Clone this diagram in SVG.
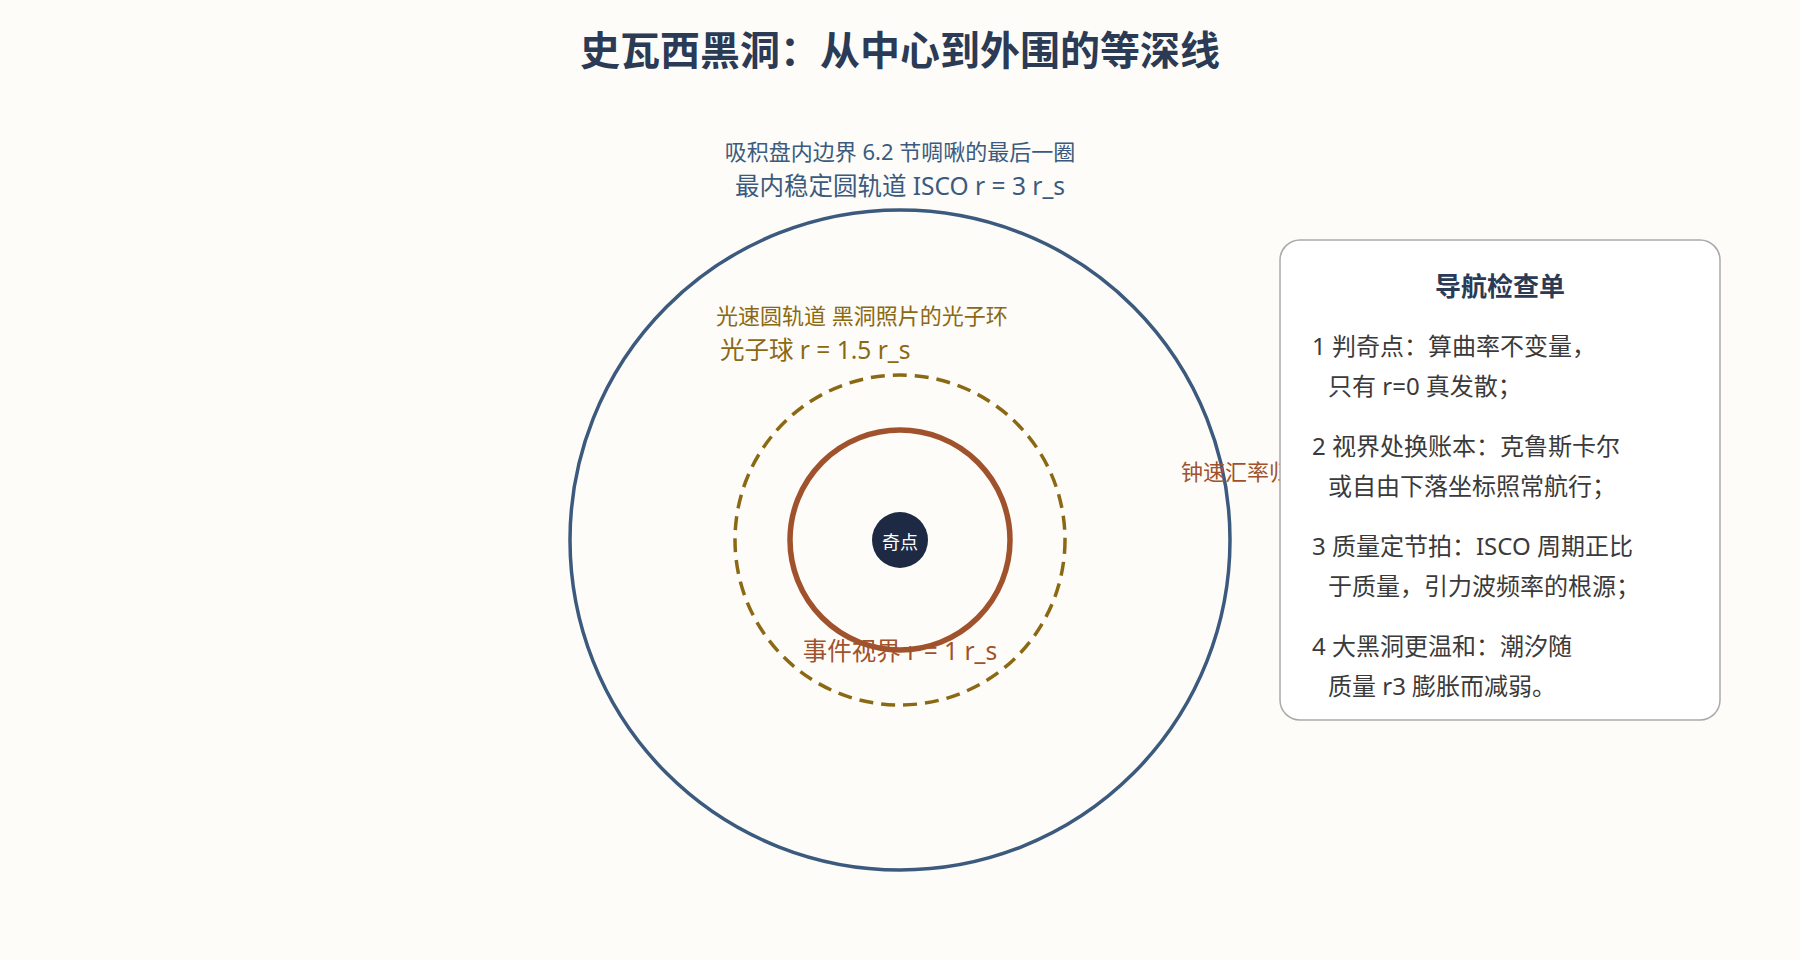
<svg xmlns="http://www.w3.org/2000/svg" width="1800" height="960" viewBox="0 0 1800 960">
  <style>
    text { font-family: "Noto Sans", "Noto Sans CJK SC", sans-serif; }
    .title { font-family: "Noto Sans CJK SC", sans-serif; font-size: 40px; font-weight: 700; fill: #2b3a55; text-anchor: middle; }
    .isco { fill: #3b5a7e; text-anchor: middle; }
    .photon { fill: #8b6914; }
    .horizon { fill: #a0522d; }
    .sub { font-size: 22px; }
    .main { font-size: 24.5px; }
    .ring-isco { fill: none; stroke: #3b5a7e; stroke-width: 3.5; }
    .ring-photon { fill: none; stroke: #8b6914; stroke-width: 3.5; stroke-dasharray: 14 8; }
    .ring-horizon { fill: none; stroke: #a0522d; stroke-width: 5.5; }
    .panel { fill: #ffffff; stroke: #aaaaaa; stroke-width: 1.5; }
    .panel-title { font-family: "Noto Sans CJK SC", sans-serif; font-size: 26px; font-weight: 700; fill: #2b3a55; text-anchor: middle; }
    .item { font-size: 24px; fill: #3a3a3a; }
  </style>
  <rect x="0" y="0" width="1800" height="960" fill="#fdfcf8"/>

  <g id="title">
    <text class="title" x="900" y="65">史瓦西黑洞：从中心到外围的等深线</text>
  </g>

  <g id="isco">
    <circle class="ring-isco" cx="900" cy="540" r="330"/>
    <text class="isco sub" x="900" y="160">吸积盘内边界 6.2 节啁啾的最后一圈</text>
    <text class="isco main" x="900" y="195">最内稳定圆轨道 ISCO r = 3 r_s</text>
  </g>

  <g id="photon-sphere">
    <circle class="ring-photon" cx="900" cy="540" r="165"/>
    <text class="photon sub" x="716" y="324">光速圆轨道 黑洞照片的光子环</text>
    <text class="photon main" x="720" y="359">光子球 r = 1.5 r_s</text>
  </g>

  <g id="horizon">
    <circle class="ring-horizon" cx="900" cy="540" r="110"/>
    <text class="horizon main" x="900" y="660" text-anchor="middle">事件视界 r = 1 r_s</text>
  </g>

  <g id="singularity">
    <circle cx="900" cy="540" r="28" fill="#1e2a44"/>
    <text x="900" y="549" font-size="18" fill="#ffffff" text-anchor="middle">奇点</text>
  </g>

  <g id="clock-label">
    <text class="horizon" x="1181" y="480" font-size="22">钟速汇率归零</text>
  </g>

  <g id="connectors"></g>

  <g id="checklist">
    <rect class="panel" x="1280" y="240" width="440" height="480" rx="20" ry="20"/>
    <text class="panel-title" x="1500" y="296">导航检查单</text>
    <text class="item" x="1312" y="355">1 判奇点：算曲率不变量，</text>
    <text class="item" x="1328" y="395">只有 r=0 真发散；</text>
    <text class="item" x="1312" y="455">2 视界处换账本：克鲁斯卡尔</text>
    <text class="item" x="1328" y="495">或自由下落坐标照常航行；</text>
    <text class="item" x="1312" y="555">3 质量定节拍：ISCO 周期正比</text>
    <text class="item" x="1328" y="595">于质量，引力波频率的根源；</text>
    <text class="item" x="1312" y="655">4 大黑洞更温和：潮汐随</text>
    <text class="item" x="1328" y="695">质量 r3 膨胀而减弱。</text>
  </g>
</svg>
